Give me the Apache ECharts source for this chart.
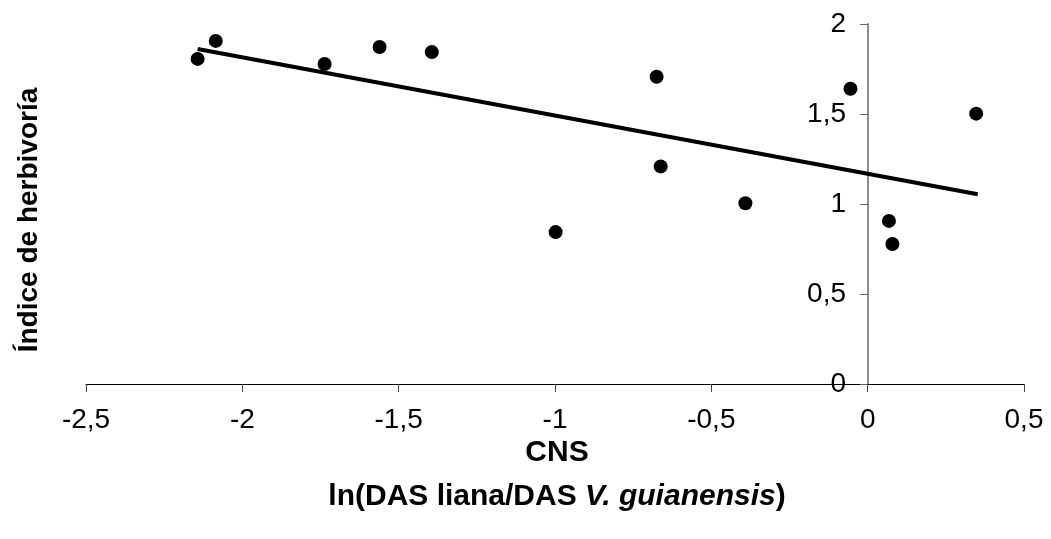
<!DOCTYPE html>
<html>
<head>
<meta charset="utf-8">
<script src="https://cdn.jsdelivr.net/npm/echarts@6/dist/echarts.min.js"></script>
<style>
  html, body { margin: 0; padding: 0; background: #fff; }
  #chart { width: 1051px; height: 539px; }
</style>
</head>
<body>
<div id="chart"></div>
<script>
// puntos observados: ln(DAS liana / DAS V. guianensis) vs índice de herbivoría
const cnsX = [-2.143, -2.085, -1.737, -1.561, -1.394, -0.998, -0.675, -0.662, -0.391, -0.055, 0.068, 0.079, 0.347]
const herbY = [1.806, 1.906, 1.778, 1.872, 1.844, 0.844, 1.707, 1.209, 1.004, 1.640, 0.906, 0.778, 1.502]

// recta de tendencia (extremos)
const trendX = [-2.143, 0.352]
const trendY = [1.861, 1.054]

const xTicks = [-2.5, -2, -1.5, -1, -0.5, 0, 0.5]
const yTicks = [0, 0.5, 1, 1.5, 2]

const FONT = 'Liberation Sans, Arial, sans-serif'
const comma = (v) => String(v).replace('.', ',')

const chart = echarts.init(document.getElementById('chart'))

const option = {
  backgroundColor: '#fff',
  animation: false,
  grid: { left: 86, right: 27, top: 24, bottom: 155 },
  xAxis: {
    type: 'value',
    min: xTicks[0],
    max: xTicks[xTicks.length - 1],
    interval: 0.5,
    axisLine: { onZero: false, lineStyle: { color: '#000', width: 1.2 } },
    axisTick: { show: true, length: 8, lineStyle: { color: '#444' } },
    axisLabel: { color: '#000', fontSize: 28, fontFamily: FONT, margin: 22, formatter: comma },
    splitLine: { show: false }
  },
  yAxis: {
    type: 'value',
    position: 'left',
    offset: -782,
    min: yTicks[0],
    max: yTicks[yTicks.length - 1],
    interval: 0.5,
    axisLine: { show: true, onZero: false, lineStyle: { color: '#808080', width: 1.8 } },
    axisTick: { show: true, length: 8, lineStyle: { color: '#666' } },
    axisLabel: { color: '#000', fontSize: 28, fontFamily: FONT, margin: 22, formatter: comma },
    splitLine: { show: false }
  },
  series: [
    {
      type: 'line',
      data: trendX.map((x, i) => [x, trendY[i]]),
      showSymbol: false,
      lineStyle: { color: '#000', width: 4 },
      z: 2
    },
    {
      type: 'scatter',
      data: cnsX.map((x, i) => [x, herbY[i]]),
      symbol: 'circle',
      symbolSize: 14,
      itemStyle: { color: '#000', opacity: 1 },
      z: 3
    }
  ],
  graphic: [
    {
      type: 'text',
      x: 29,
      y: 220,
      rotation: Math.PI / 2,
      style: {
        text: 'Índice de herbivoría',
        font: 'bold 28px ' + FONT,
        fill: '#000',
        textAlign: 'center',
        textVerticalAlign: 'middle'
      }
    },
    {
      type: 'text',
      x: 557,
      y: 453,
      style: {
        text: 'CNS',
        font: 'bold 30px ' + FONT,
        fill: '#000',
        textAlign: 'center',
        textVerticalAlign: 'middle'
      }
    },
    {
      type: 'text',
      x: 557,
      y: 497,
      style: {
        text: '{b|ln(DAS liana/DAS }{i|V. guianensis}{b|)}',
        fill: '#000',
        textAlign: 'center',
        textVerticalAlign: 'middle',
        rich: {
          b: { font: 'bold 30px ' + FONT, fill: '#000' },
          i: { font: 'italic bold 30px ' + FONT, fill: '#000' }
        }
      }
    }
  ]
}

chart.setOption(option)
</script>
</body>
</html>
